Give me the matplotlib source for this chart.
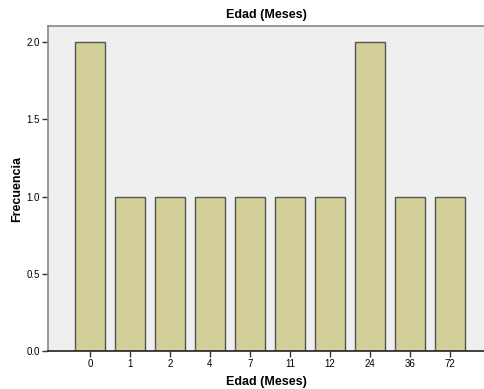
import matplotlib
matplotlib.use("Agg")
import matplotlib.pyplot as plt

plt.rcParams['font.family'] = ['Liberation Sans', 'DejaVu Sans']

edades = ['0', '1', '2', '4', '7', '11', '12', '24', '36', '72']
frecuencia = [2, 1, 1, 1, 1, 1, 1, 2, 1, 1]

fig = plt.figure(figsize=(4.84, 3.89), dpi=100)
ax = fig.add_axes([48 / 484, 38 / 389, 436 / 484, 325 / 389])
ax.set_facecolor('#efefef')

pos = list(range(len(edades)))
ax.bar(pos, frecuencia, width=0.75, color='#d3cf99', edgecolor='#555555', linewidth=1.0)

ax.set_xlim(-1.05, 9.85)
ax.set_ylim(0, 2.104)
ax.set_xticks(pos)
ax.set_xticklabels(edades)
ax.set_yticks([0, 0.5, 1.0, 1.5, 2.0])
ax.set_yticklabels(['0.0', '0.5', '1.0', '1.5', '2.0'])
ax.tick_params(labelsize=7, length=4, width=1, color='#333333', pad=2)

for side in ['left', 'bottom', 'top']:
    ax.spines[side].set_color('#888888')
    ax.spines[side].set_linewidth(1.2)
ax.spines['bottom'].set_color('#222222')
ax.spines['right'].set_visible(False)

ax.set_title('Edad (Meses)', fontsize=9, fontweight='bold', pad=6)
ax.set_xlabel('Edad (Meses)', fontsize=9, fontweight='bold', labelpad=5)
ax.set_ylabel('Frecuencia', fontsize=9, fontweight='bold', labelpad=2)

fig.savefig('out.png', dpi=100)
